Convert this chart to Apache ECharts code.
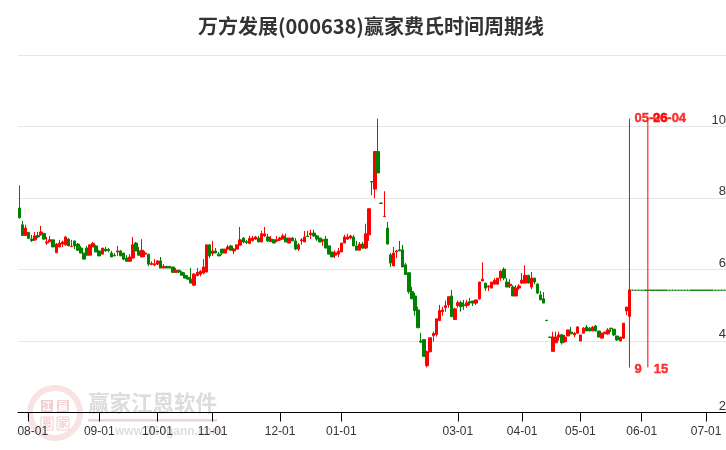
<!DOCTYPE html>
<html><head><meta charset="utf-8">
<style>html,body{margin:0;padding:0;background:#fff}#c{width:726px;height:450px}</style>
<script src="https://cdn.jsdelivr.net/npm/echarts@6/dist/echarts.min.js"></script>
</head><body><div id="c"></div>
<script>
const titleText='万方发展(000638)赢家费氏时间周期线';
const opens=[7.72,7.25,6.95,7.04,6.85,6.83,6.95,6.97,7.01,6.74,
6.78,6.83,6.47,6.63,6.71,6.69,6.85,6.64,6.80,6.71,
6.60,6.46,6.60,6.40,6.63,6.66,6.52,6.43,6.57,6.56,
6.46,6.40,6.49,6.52,6.46,6.32,6.23,6.32,6.74,6.52,
6.35,6.43,6.43,6.14,6.13,6.15,6.24,6.04,6.09,6.09,
6.07,5.92,5.98,5.92,5.84,5.78,5.73,5.56,5.83,5.87,
5.90,5.93,6.69,6.45,6.52,6.43,6.57,6.46,6.57,6.66,
6.52,6.57,6.68,6.88,6.78,6.73,6.81,6.85,6.88,6.77,
6.94,6.91,6.78,6.83,6.80,6.83,6.85,6.88,6.74,6.88,
6.80,6.57,6.80,6.77,6.94,6.97,7.02,6.94,6.88,6.80,
6.85,6.66,6.49,6.40,6.43,6.49,6.74,6.85,6.88,6.91,
6.66,6.54,6.71,6.60,6.97,8.46,8.25,9.30,7.86,7.48,
7.16,6.41,6.10,6.49,6.55,6.55,6.13,5.91,5.38,5.26,
4.87,4.00,4.04,3.31,3.70,4.15,4.18,4.57,4.82,4.93,
5.01,5.26,4.60,4.99,5.07,5.01,4.99,5.10,5.12,5.06,
5.18,5.68,5.62,5.51,5.48,5.59,5.59,5.76,6.01,5.65,
5.54,5.51,5.26,5.48,5.62,5.62,5.84,5.51,5.76,5.59,
5.29,5.18,4.58,4.11,3.71,3.95,4.11,4.17,3.98,4.14,
4.25,4.17,4.22,4.00,4.22,4.39,4.36,4.28,4.42,4.28,
4.08,4.20,4.20,4.36,4.33,4.14,4.00,4.08,4.84,4.69];
const closes=[7.45,6.95,7.16,6.87,6.81,6.94,6.91,7.05,6.85,6.77,
6.83,6.63,6.71,6.74,6.77,6.91,6.66,6.65,6.66,6.54,
6.46,6.29,6.40,6.69,6.73,6.49,6.38,6.60,6.52,6.53,
6.35,6.38,6.52,6.38,6.29,6.23,6.35,6.69,6.52,6.40,
6.54,6.46,6.15,6.17,6.16,6.24,6.04,6.09,6.04,6.04,
5.92,5.98,5.93,5.84,5.76,5.73,5.62,5.87,5.92,5.95,
6.07,6.69,6.38,6.52,6.46,6.38,6.46,6.57,6.63,6.54,
6.57,6.69,6.83,6.77,6.75,6.87,6.88,6.91,6.77,7.00,
7.00,6.80,6.85,6.74,6.83,6.88,6.94,6.77,6.88,6.80,
6.57,6.69,6.83,6.91,6.92,7.02,6.94,6.85,6.77,6.83,
6.60,6.43,6.35,6.47,6.52,6.74,6.91,6.91,6.94,6.66,
6.54,6.71,6.60,7.00,7.70,8.45,9.30,8.70,7.85,7.49,
6.71,6.18,6.46,6.52,6.52,6.07,5.86,5.38,5.18,4.85,
4.37,3.97,3.57,3.70,4.09,4.21,4.62,4.85,4.87,4.99,
5.24,4.68,4.90,5.07,4.96,4.99,5.07,5.07,5.06,5.15,
5.65,5.73,5.48,5.54,5.65,5.70,5.76,5.95,5.76,5.51,
5.59,5.26,5.48,5.54,5.70,5.84,5.62,5.76,5.65,5.34,
5.15,5.06,4.57,4.10,4.11,4.11,4.17,3.95,4.11,4.31,
4.20,4.22,4.39,4.17,4.36,4.28,4.28,4.39,4.28,4.11,
4.22,4.25,4.31,4.34,4.17,4.03,4.11,4.50,4.95,5.43];
const lows=[7.42,6.95,6.95,6.85,6.77,6.80,6.88,6.94,6.83,6.69,
6.77,6.63,6.47,6.63,6.63,6.66,6.66,6.63,6.57,6.54,
6.46,6.29,6.40,6.40,6.63,6.49,6.38,6.43,6.49,6.48,
6.35,6.38,6.38,6.38,6.26,6.23,6.23,6.32,6.52,6.40,
6.35,6.35,6.09,6.12,6.09,6.12,6.04,6.04,6.04,6.04,
5.92,5.92,5.90,5.84,5.76,5.73,5.62,5.53,5.81,5.81,
5.87,5.93,6.32,6.38,6.46,6.38,6.40,6.46,6.54,6.54,
6.43,6.57,6.68,6.73,6.71,6.71,6.78,6.83,6.77,6.77,
6.91,6.77,6.77,6.74,6.77,6.80,6.85,6.77,6.74,6.80,
6.54,6.52,6.69,6.77,6.92,6.85,6.91,6.80,6.77,6.66,
6.60,6.43,6.35,6.32,6.35,6.49,6.74,6.83,6.85,6.66,
6.54,6.54,6.57,6.57,6.80,8.08,7.99,8.70,7.85,7.48,
6.71,6.07,6.10,6.32,6.52,6.07,5.86,5.32,5.18,4.71,
4.37,3.95,3.57,3.26,3.68,3.98,4.12,4.57,4.71,4.82,
4.93,4.68,4.60,4.93,4.82,4.87,4.93,5.00,4.98,5.01,
5.15,5.68,5.40,5.40,5.48,5.59,5.59,5.68,5.70,5.51,
5.48,5.26,5.26,5.43,5.59,5.62,5.62,5.45,5.59,5.31,
5.15,5.06,4.57,4.10,3.71,3.95,4.01,3.90,3.95,4.14,
4.20,4.11,4.20,4.00,4.22,4.28,4.28,4.28,4.28,4.11,
4.08,4.20,4.17,4.25,4.14,4.00,4.00,4.06,4.73,4.69];
const highs=[8.35,7.36,7.25,7.04,6.97,7.05,7.05,7.22,7.01,6.91,
6.94,6.83,6.74,6.83,6.81,6.94,6.88,6.83,6.80,6.74,
6.66,6.46,6.66,6.69,6.77,6.69,6.54,6.60,6.63,6.60,
6.52,6.46,6.66,6.54,6.46,6.40,6.43,6.91,6.77,6.63,
6.85,6.52,6.43,6.23,6.29,6.26,6.35,6.15,6.09,6.09,
6.07,6.04,5.98,5.95,5.92,5.84,6.04,5.90,6.04,5.98,
6.29,6.69,6.69,6.80,6.60,6.49,6.57,6.57,6.69,6.69,
6.60,6.69,7.19,6.91,6.83,6.94,6.94,6.94,6.94,7.08,
7.19,7.00,6.94,6.85,6.94,6.91,7.00,7.00,6.88,6.91,
6.88,6.74,6.88,7.08,7.08,7.11,7.11,6.97,6.88,6.85,
6.94,6.66,6.49,6.54,6.60,6.74,6.97,7.00,6.97,6.97,
6.80,6.77,6.77,7.28,7.70,8.46,9.30,10.22,7.86,8.19,
7.33,6.46,6.63,6.55,6.80,6.69,6.18,5.91,5.52,5.35,
4.96,4.23,4.04,3.73,4.09,4.26,4.62,5.01,4.96,5.13,
5.24,5.43,4.93,5.13,5.13,5.15,5.15,5.20,5.12,5.15,
5.65,6.20,5.62,5.56,5.65,5.76,5.76,5.98,6.06,5.76,
5.73,5.56,5.56,5.59,5.90,6.12,5.84,5.93,5.76,5.62,
5.40,5.37,4.58,4.11,4.26,4.26,4.26,4.20,4.17,4.31,
4.39,4.25,4.42,4.17,4.39,4.45,4.39,4.42,4.45,4.28,
4.22,4.25,4.36,4.36,4.33,4.14,4.11,4.50,4.95,5.43];
// flat placeholder prices after the last trading day (31 entries)
const futurePrices=[5.42,5.42,5.42,5.42,5.42,5.42,5.42,5.42,5.42,5.42,
5.42,5.42,5.42,5.42,5.42,5.42,5.42,5.42,5.42,5.42,
5.42,5.42,5.42,5.42,5.42,5.42,5.42,5.42,5.42,5.42,
5.42];
const tickLabels=['08-01','09-01','10-01','11-01','12-01','01-01','03-01','04-01','05-01','06-01','07-01'];
const tickIndices=[3,26,45,63,85,105,143,164,183,203,224];
const yTicks=[2,4,6,8,10];
const cycleIndices=[199,205];
const cycleDates=['05-26','06-04'];
const cycleCounts=['9','15'];
const cycleHigh=10.22, cycleLow=3.26;

const RED='#ff0000', GREEN='#008000';
const total=opens.length+futurePrices.length;
const categories=Array.from({length:total},(_,i)=>{const k=tickIndices.indexOf(i);return k>=0?tickLabels[k]:'d'+i;});
const candle=[];
opens.forEach((o,i)=>candle.push([o,closes[i],lows[i],highs[i]]));
futurePrices.forEach(p=>candle.push([p,p,p,p]));
const isTick=i=>tickIndices.indexOf(i)>=0;
const textPoints=[];
cycleIndices.forEach((idx,k)=>{
  textPoints.push({value:[idx,cycleHigh],label:{formatter:cycleDates[k]}});
  textPoints.push({value:[idx,cycleLow],label:{formatter:cycleCounts[k],offset:[k?1:0,2]}});
});
const lineSeries=cycleIndices.map(idx=>({
  type:'line',silent:true,symbol:'none',animation:false,z:5,
  data:[[idx,cycleHigh],[idx,cycleLow]],lineStyle:{color:RED,width:1}
}));
const PINK='#f3cfcf';
const wmZ=-10;
const cjk='"Noto Sans CJK SC"';
const chart=echarts.init(document.getElementById('c'),null,{renderer:'canvas'});
chart.setOption({
  animation:false,backgroundColor:'#fff',
  title:{text:titleText,left:193,top:11,textStyle:{fontFamily:cjk,fontWeight:'bold',fontSize:20,color:'#333'}},
  grid:{left:18,right:0,top:55,bottom:37.5,containLabel:false,outerBoundsMode:'none'},
  xAxis:{type:'category',data:categories,boundaryGap:true,
    axisLine:{onZero:false,lineStyle:{color:'#000',width:1}},
    axisTick:{show:true,alignWithLabel:true,interval:(i)=>isTick(i),length:9,lineStyle:{color:'#000',width:1}},
    axisLabel:{interval:(i)=>isTick(i),color:'#333',fontFamily:'"Liberation Sans"',fontSize:12,margin:13,
      formatter:(v)=>v===tickLabels[0]?'{f|'+v+'}':v,rich:{f:{padding:[0,0,0,8],fontFamily:'"Liberation Sans"',fontSize:12,color:'#333'}}},
    splitLine:{show:false}},
  yAxis:{type:'value',position:'right',min:2,max:12,interval:2,
    axisLine:{show:false},axisTick:{show:false},
    axisLabel:{inside:true,verticalAlign:'bottom',margin:0,color:'#333',fontFamily:'"Liberation Sans"',fontSize:13,
      formatter:(v)=>yTicks.indexOf(v)>=0?String(v):''},
    splitLine:{show:true,lineStyle:{color:'#e6e6e6',width:1}}},
  series:[
    {type:'candlestick',data:candle,barWidth:3,z:3,
      itemStyle:{color:RED,color0:GREEN,borderColor:RED,borderColor0:GREEN,borderColorDoji:GREEN,borderWidth:1}},
    ...lineSeries,
    {type:'scatter',symbolSize:0,silent:true,z:6,data:textPoints,
      label:{show:true,position:'right',distance:5,color:RED,textBorderColor:RED,textBorderWidth:0.4,fontFamily:'"Liberation Sans"',fontWeight:'bold',fontSize:13}}
  ],
  graphic:[
    {type:'circle',z:wmZ,shape:{cx:55,cy:413,r:25},style:{fill:'none',stroke:'#f8e2e2',lineWidth:6}},
    {type:'rect',z:wmZ,shape:{x:41,y:400,width:12,height:12},style:{fill:PINK}},
    {type:'rect',z:wmZ,shape:{x:57,y:400,width:12,height:12},style:{fill:PINK}},
    {type:'rect',z:wmZ,shape:{x:41,y:417,width:12,height:13},style:{fill:'#fff',stroke:PINK,lineWidth:1}},
    {type:'rect',z:wmZ,shape:{x:57,y:417,width:12,height:13},style:{fill:'#fff',stroke:PINK,lineWidth:1}},
    {type:'text',z:wmZ,style:{x:47,y:406,text:'江',fill:'#fff',font:'bold 10px '+cjk,align:'center',verticalAlign:'middle'}},
    {type:'text',z:wmZ,style:{x:63,y:406,text:'赢',fill:'#fff',font:'bold 10px '+cjk,align:'center',verticalAlign:'middle'}},
    {type:'text',z:wmZ,style:{x:47,y:423.5,text:'恩',fill:PINK,font:'bold 10px '+cjk,align:'center',verticalAlign:'middle'}},
    {type:'text',z:wmZ,style:{x:63,y:423.5,text:'家',fill:PINK,font:'bold 10px '+cjk,align:'center',verticalAlign:'middle'}},
    {type:'text',z:wmZ,style:{x:88,y:403,text:'赢家江恩软件',fill:'#dcdcdc',font:'bold 21.5px '+cjk,align:'left',verticalAlign:'middle'}},
    {type:'rect',z:wmZ,shape:{x:88,y:419,width:129,height:2.5},style:{fill:'#f0d4d4'}},
    {type:'text',z:wmZ,style:{x:115,y:432,text:'www.360gann.com',fill:'#dedede',font:'bold 12px "Liberation Sans"',align:'left',verticalAlign:'middle'}}
  ]
});
</script></body></html>
